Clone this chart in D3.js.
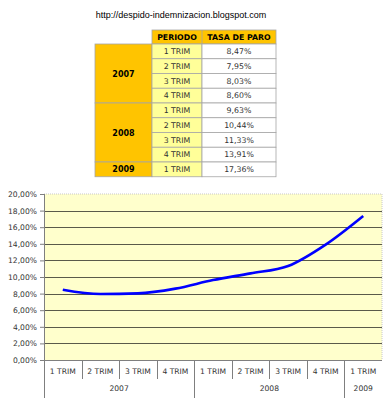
<!DOCTYPE html>
<html>
<head>
<meta charset="utf-8">
<script src="https://cdn.jsdelivr.net/npm/d3@7"></script>
<style>
  body { margin: 0; background: #fff; }
  text { font-family: "DejaVu Sans", Verdana, sans-serif; }
</style>
</head>
<body>
<div id="container"></div>
<script>
// data
var years = ["2007", "2008", "2009"];
var yearQuarters = [4, 4, 1];
var periods = ["1 TRIM", "2 TRIM", "3 TRIM", "4 TRIM", "1 TRIM", "2 TRIM", "3 TRIM", "4 TRIM", "1 TRIM"];
var rates = [8.47, 7.95, 8.03, 8.60, 9.63, 10.44, 11.33, 13.91, 17.36];
var rateLabels = ["8,47%", "7,95%", "8,03%", "8,60%", "9,63%", "10,44%", "11,33%", "13,91%", "17,36%"];
var yTicks = [0, 2, 4, 6, 8, 10, 12, 14, 16, 18, 20];

var W = 392, H = 400;

var svg = d3.select("#container")
  .append("svg")
  .attr("width", W)
  .attr("height", H);

// title (blog url)
svg.append("text")
  .attr("x", 181)
  .attr("y", 18)
  .attr("text-anchor", "middle")
  .style("font-family", "'Liberation Sans', Arial, sans-serif")
  .style("font-size", "9px")
  .attr("fill", "#000")
  .text("http://despido-indemnizacion.blogspot.com");

// ---- table ----
var col = {year: 95, period: 152, rate: 202, end: 276};
var headTop = 30, headH = 14;
var rowH = 14.75;
var rowY = function(i) { return headTop + headH + i * rowH; };
var border = "#a6a6a6";
var gold = "#ffc400";
var paleYellow = "#ffff99";

var table = svg.append("g");

// header cells
table.append("rect")
  .attr("x", col.period).attr("y", headTop)
  .attr("width", col.end - col.period).attr("height", headH)
  .attr("fill", gold).attr("stroke", border).attr("stroke-width", 0.8);
table.append("line")
  .attr("x1", col.rate).attr("x2", col.rate)
  .attr("y1", headTop).attr("y2", headTop + headH)
  .attr("stroke", border).attr("stroke-width", 0.8);
table.append("text")
  .attr("x", (col.period + col.rate) / 2).attr("y", headTop + 10)
  .attr("text-anchor", "middle")
  .style("font-size", "7.8px").style("font-weight", "bold")
  .text("PERIODO");
table.append("text")
  .attr("x", (col.rate + col.end) / 2).attr("y", headTop + 10)
  .attr("text-anchor", "middle")
  .style("font-size", "7.8px").style("font-weight", "bold")
  .text("TASA DE PARO");

// year cells
var start = 0;
years.forEach(function(y, k) {
  var n = yearQuarters[k];
  var top = rowY(start), h = n * rowH;
  table.append("rect")
    .attr("x", col.year).attr("y", top)
    .attr("width", col.period - col.year).attr("height", h)
    .attr("fill", gold).attr("stroke", border).attr("stroke-width", 0.8);
  table.append("text")
    .attr("x", (col.year + col.period) / 2).attr("y", top + h / 2 + 3)
    .attr("text-anchor", "middle")
    .style("font-size", "8px").style("font-weight", "bold")
    .text(y);
  start += n;
});

// period and rate rows
var rows = table.selectAll(".row")
  .data(periods)
  .enter().append("g")
  .attr("class", "row");

rows.append("rect")
  .attr("x", col.period).attr("y", function(d, i) { return rowY(i); })
  .attr("width", col.rate - col.period).attr("height", rowH)
  .attr("fill", paleYellow).attr("stroke", border).attr("stroke-width", 0.8);
rows.append("rect")
  .attr("x", col.rate).attr("y", function(d, i) { return rowY(i); })
  .attr("width", col.end - col.rate).attr("height", rowH)
  .attr("fill", "#fff").attr("stroke", border).attr("stroke-width", 0.8);
rows.append("text")
  .attr("x", (col.period + col.rate) / 2).attr("y", function(d, i) { return rowY(i) + 10; })
  .attr("text-anchor", "middle")
  .style("font-size", "7.8px").attr("fill", "#333")
  .text(function(d) { return d; });
rows.append("text")
  .attr("x", (col.rate + col.end) / 2).attr("y", function(d, i) { return rowY(i) + 10; })
  .attr("text-anchor", "middle")
  .style("font-size", "7.8px").attr("fill", "#333")
  .text(function(d, i) { return rateLabels[i]; });

// ---- chart ----
var plot = {left: 44, right: 382, top: 194, bottom: 360};

var x = d3.scaleBand()
  .domain(d3.range(periods.length))
  .range([plot.left, plot.right]);

var y = d3.scaleLinear()
  .domain([0, 20])
  .range([plot.bottom, plot.top]);

var chart = svg.append("g");

// plot background
chart.append("rect")
  .attr("x", plot.left).attr("y", plot.top)
  .attr("width", plot.right - plot.left).attr("height", plot.bottom - plot.top)
  .attr("fill", "#ffffcc");

// light outline top / right
chart.append("path")
  .attr("d", "M" + plot.left + "," + plot.top + "H" + plot.right + "V" + plot.bottom)
  .attr("fill", "none").attr("stroke", "#c8c8c8").attr("stroke-dasharray", "1,1");

// gridlines
chart.append("g")
  .selectAll("line")
  .data(yTicks.filter(function(t) { return t > 0 && t < 20; }))
  .enter().append("line")
  .attr("x1", plot.left).attr("x2", plot.right)
  .attr("y1", function(d) { return Math.round(y(d)) + 0.5; })
  .attr("y2", function(d) { return Math.round(y(d)) + 0.5; })
  .attr("stroke", "#5a5a4a").attr("stroke-width", 1);

// y axis
var yAxis = chart.append("g")
  .attr("transform", "translate(" + plot.left + ",0)")
  .call(d3.axisLeft(y).tickValues(yTicks).tickSize(4).tickPadding(3)
    .tickFormat(function(d) { return d3.format(".2f")(d).replace(".", ",") + "%"; }));
yAxis.select(".domain").remove();
yAxis.selectAll(".tick line").attr("stroke", "#7f7f7f");
yAxis.selectAll("text")
  .style("font-family", "'DejaVu Sans', Verdana, sans-serif")
  .style("font-size", "7.6px").attr("fill", "#333");

// x axis line
chart.append("line")
  .attr("x1", plot.left).attr("x2", plot.right)
  .attr("y1", plot.bottom + 0.5).attr("y2", plot.bottom + 0.5)
  .attr("stroke", "#7f7f7f");
// left vertical axis line, running down through the category labels
chart.append("line")
  .attr("x1", plot.left + 0.5).attr("x2", plot.left + 0.5)
  .attr("y1", plot.top).attr("y2", 398)
  .attr("stroke", "#7f7f7f");

// quarter labels
chart.append("g")
  .selectAll("text")
  .data(periods)
  .enter().append("text")
  .attr("x", function(d, i) { return x(i) + x.bandwidth() / 2; })
  .attr("y", 374)
  .attr("text-anchor", "middle")
  .style("font-size", "7.6px").attr("fill", "#333")
  .text(function(d) { return d; });

// separators between quarters / years
var yearStarts = [];
var acc = 0;
yearQuarters.forEach(function(n) { acc += n; yearStarts.push(acc); });
chart.append("g")
  .selectAll("line")
  .data(d3.range(1, periods.length))
  .enter().append("line")
  .attr("x1", function(i) { return Math.round(x(i)) + 0.5; })
  .attr("x2", function(i) { return Math.round(x(i)) + 0.5; })
  .attr("y1", plot.bottom)
  .attr("y2", function(i) { return yearStarts.indexOf(i) >= 0 ? 398 : 379; })
  .attr("stroke", "#7f7f7f");

// year labels
var s = 0;
years.forEach(function(yr, k) {
  var n = yearQuarters[k];
  var cx = (x(s) + x(s + n - 1) + x.bandwidth()) / 2;
  chart.append("text")
    .attr("x", cx).attr("y", 391)
    .attr("text-anchor", "middle")
    .style("font-size", "7.6px").attr("fill", "#333")
    .text(yr);
  s += n;
});

// the line
var line = d3.line()
  .x(function(d, i) { return x(i) + x.bandwidth() / 2; })
  .y(function(d) { return y(d); })
  .curve(d3.curveMonotoneX);

chart.append("path")
  .datum(rates)
  .attr("d", line)
  .attr("fill", "none")
  .attr("stroke", "#0000ff")
  .attr("stroke-width", 2.6)
  .attr("stroke-linejoin", "round");
</script>
</body>
</html>
